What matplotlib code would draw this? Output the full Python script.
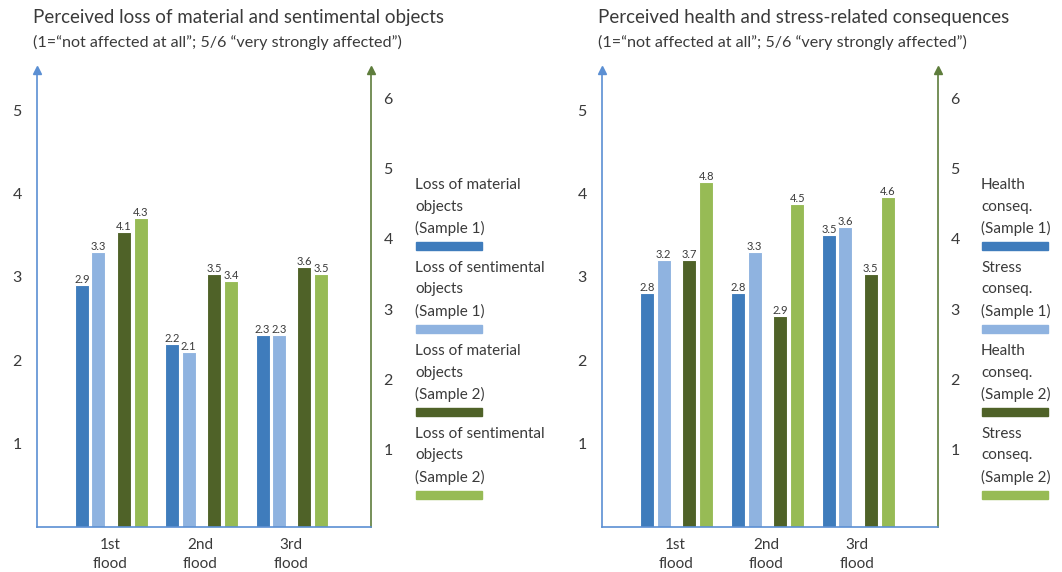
import numpy as np
import matplotlib.pyplot as plt
from matplotlib.patches import Rectangle

plt.rcParams['font.family'] = ['Lato', 'DejaVu Sans']

FLOODS = ['1st\nflood', '2nd\nflood', '3rd\nflood']

# left panel: loss of objects
LOSS_MAT_S1 = [2.9, 2.2, 2.3]
LOSS_SENT_S1 = [3.3, 2.1, 2.3]
LOSS_MAT_S2 = [4.1, 3.5, 3.6]
LOSS_SENT_S2 = [4.3, 3.4, 3.5]
LOSS_LABELS = ['Loss of material\nobjects\n(Sample 1)',
               'Loss of sentimental\nobjects\n(Sample 1)',
               'Loss of material\nobjects\n(Sample 2)',
               'Loss of sentimental\nobjects\n(Sample 2)']

# right panel: health / stress
HEALTH_S1 = [2.8, 2.8, 3.5]
STRESS_S1 = [3.2, 3.3, 3.6]
HEALTH_S2 = [3.7, 2.9, 3.5]
STRESS_S2 = [4.8, 4.5, 4.6]
HEALTH_LABELS = ['Health\nconseq.\n(Sample 1)',
                 'Stress\nconseq.\n(Sample 1)',
                 'Health\nconseq.\n(Sample 2)',
                 'Stress\nconseq.\n(Sample 2)']

TICKS_S1 = [1, 2, 3, 4, 5]
TICKS_S2 = [1, 2, 3, 4, 5, 6]

COLORS = ['#3f7cbc', '#8fb3e0', '#4f6228', '#97bb55']
BLUE_AX = '#5b8fd3'
GREEN_AX = '#5e7d3c'
TXT = '#3a3a3a'

W, H = 1062, 572
OFFSETS = [-0.31, -0.13, 0.15, 0.34]
BAR_W = 0.155
YLIM_S1 = (0, 5.48)
YLIM_S2 = (-0.1, 6.4)


def px(x, y):
    return x / W, 1 - y / H


def draw_panel(fig, x0, x1, title, subtitle, s1, s2, labels, leg_x):
    left, bottom = px(x0, 527)
    ax = fig.add_axes([left, bottom, (x1 - x0) / W, (527 - 70) / H])
    ax2 = ax.twinx()
    x = np.arange(len(FLOODS))

    series = [(s1[0], ax, YLIM_S1), (s1[1], ax, YLIM_S1),
              (s2[0], ax2, YLIM_S2), (s2[1], ax2, YLIM_S2)]
    for k, (vals, axis, lim) in enumerate(series):
        lo = lim[0]
        # bars rise from the axis floor up to the value
        bars = axis.bar(x + OFFSETS[k], np.array(vals) - lo, BAR_W, bottom=lo,
                        color=COLORS[k], edgecolor='white', linewidth=0.8, zorder=2)
        for b, v in zip(bars, vals):
            axis.text(b.get_x() + b.get_width() / 2, v, f"{v:.1f}", ha='center',
                      va='bottom', fontsize=8, color=TXT, zorder=4)

    ax.set_xlim(-0.81, 2.89)
    ax.set_ylim(*YLIM_S1)
    ax2.set_ylim(*YLIM_S2)
    ax.set_xticks(x)
    ax.set_xticklabels(FLOODS, fontsize=11, color=TXT, linespacing=1.45)
    ax.set_yticks(TICKS_S1)
    ax2.set_yticks(TICKS_S2)
    ax.tick_params(axis='x', length=0, pad=8)
    ax.tick_params(axis='y', length=0, pad=11, labelsize=11.5, labelcolor=TXT)
    ax2.tick_params(axis='y', length=0, pad=9, labelsize=11.5, labelcolor=TXT)

    for axis in (ax, ax2):
        axis.spines['top'].set_visible(False)
    ax.spines['right'].set_visible(False)
    ax.spines['bottom'].set_visible(False)
    ax2.spines['left'].set_visible(False)
    # baseline drawn on the twin so it sits above all bars
    ax2.spines['bottom'].set_color(BLUE_AX)
    ax.spines['left'].set_color(BLUE_AX)
    ax2.spines['right'].set_color(GREEN_AX)
    for sp in (ax.spines['left'], ax2.spines['bottom'], ax2.spines['right']):
        sp.set_linewidth(1.2)

    # arrow heads on the two value axes
    ax.plot([0], [1], marker='^', ms=6, color=BLUE_AX, transform=ax.transAxes,
            clip_on=False, zorder=5)
    ax2.plot([1], [1], marker='^', ms=6, color=GREEN_AX, transform=ax2.transAxes,
             clip_on=False, zorder=5)

    tx, ty = px(x0 - 4, 18)
    fig.text(tx, ty, title, fontsize=13.5, color=TXT, va='center')
    tx, ty = px(x0 - 4, 42)
    fig.text(tx, ty, subtitle, fontsize=11.6, color=TXT, va='center')

    # legend: text stacked above a colour swatch
    for k, lab in enumerate(labels):
        top = 185 + k * 83
        for i, line in enumerate(lab.split('\n')):
            lx, ly = px(leg_x, top + i * 21.5)
            fig.text(lx, ly, line, fontsize=11, color=TXT, va='center')
        rx, ry = px(leg_x + 1, top + 65)
        fig.patches.append(Rectangle((rx, ry), 66 / W, 8 / H, color=COLORS[k],
                                     transform=fig.transFigure, figure=fig))
    return ax, ax2


fig = plt.figure(figsize=(10.62, 5.72), dpi=100)
SUB = '(1=\u201cnot affected at all\u201d; 5/6 \u201cvery strongly affected\u201d)'

draw_panel(fig, 37, 371, 'Perceived loss of material and sentimental objects', SUB,
           (LOSS_MAT_S1, LOSS_SENT_S1), (LOSS_MAT_S2, LOSS_SENT_S2), LOSS_LABELS, 415)
draw_panel(fig, 602, 938, 'Perceived health and stress-related consequences', SUB,
           (HEALTH_S1, STRESS_S1), (HEALTH_S2, STRESS_S2), HEALTH_LABELS, 981)

fig.savefig('out.png', dpi=100)
